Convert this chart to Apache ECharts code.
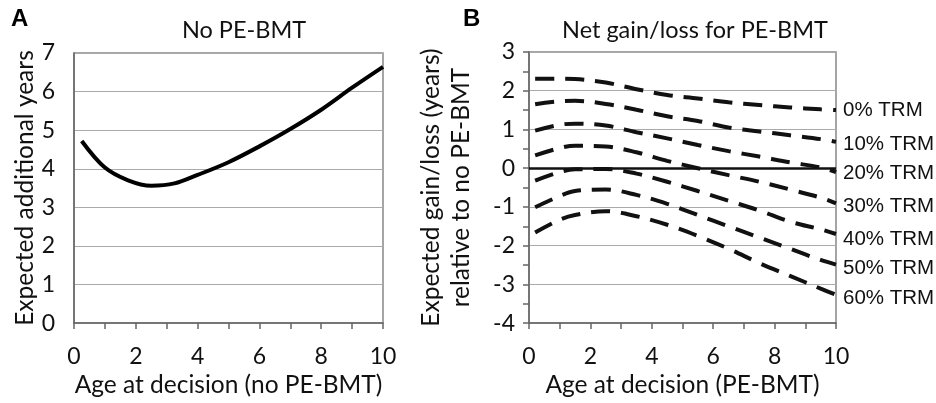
<!DOCTYPE html>
<html>
<head>
<meta charset="utf-8">
<script src="https://cdn.jsdelivr.net/npm/echarts@6/dist/echarts.min.js"></script>
<style>
  html, body { margin: 0; padding: 0; background: #fff; }
  #chart { width: 936px; height: 403px; }
</style>
</head>
<body>
<div id="chart"></div>
<script>
// panel A: no PE-BMT
var ageA = [0.25, 1, 1.75, 2.5, 3.25, 4, 5, 6, 7, 8, 9, 10];
var yearsA = [4.72, 4.03, 3.70, 3.56, 3.62, 3.84, 4.17, 4.58, 5.03, 5.53, 6.1, 6.64];

// panel B: net gain/loss by TRM
var ageB = [0.2, 1, 1.5, 2.5, 3.5, 4.5, 5.5, 6.5, 7.5, 8.5, 9.5, 10];
var trmNames = ['0% TRM', '10% TRM', '20% TRM', '30% TRM', '40% TRM', '50% TRM', '60% TRM'];
var trm0 = [2.31, 2.31, 2.30, 2.21, 2.04, 1.89, 1.80, 1.70, 1.63, 1.57, 1.52, 1.50];
var trm10 = [1.65, 1.73, 1.74, 1.66, 1.51, 1.34, 1.22, 1.05, 0.95, 0.85, 0.75, 0.68];
var trm20 = [0.97, 1.12, 1.15, 1.10, 0.93, 0.77, 0.60, 0.44, 0.30, 0.15, 0.02, -0.10];
var trm30 = [0.33, 0.52, 0.58, 0.56, 0.41, 0.19, 0.00, -0.18, -0.35, -0.55, -0.76, -0.91];
var trm40 = [-0.32, -0.10, -0.03, -0.02, -0.14, -0.35, -0.59, -0.84, -1.09, -1.38, -1.58, -1.70];
var trm50 = [-1.01, -0.72, -0.59, -0.55, -0.69, -0.92, -1.21, -1.50, -1.79, -2.08, -2.37, -2.49];
var trm60 = [-1.66, -1.33, -1.21, -1.11, -1.24, -1.46, -1.75, -2.08, -2.45, -2.78, -3.11, -3.27];
var trmSeries = [trm0, trm10, trm20, trm30, trm40, trm50, trm60];
var labelShift = [0, 2, 1, 3, 5, 4, 4];

var pairs = function(xs, ys){
    return xs.map(function(x, i){ return [x, ys[i]]; });
};

var fontMain = 'Lato, "Open Sans", sans-serif';
var axisGray = '#666';

var xAxisBase = function(idx, name){
    return {
        type: 'value', gridIndex: idx, min: 0, max: 10, interval: 2,
        name: name, nameLocation: 'middle', nameGap: 43,
        nameTextStyle: { color: '#111', fontSize: 24.5, fontFamily: fontMain },
        axisLine: { onZero: false, lineStyle: { color: axisGray, width: 1.5 } },
        axisTick: { show: true, length: 6, lineStyle: { color: axisGray, width: 1.5 } },
        minorTick: { show: true, splitNumber: 2, length: 6, lineStyle: { color: axisGray, width: 1.5 } },
        splitLine: { show: false },
        axisLabel: { color: '#111', fontSize: 23, fontFamily: fontMain, margin: 22 }
    };
};

var seriesB = trmSeries.map(function(vals, i){
    var s = {
        type: 'line', xAxisIndex: 1, yAxisIndex: 1,
        data: pairs(ageB, vals), smooth: 0.35, symbol: 'none',
        lineStyle: { color: '#111', width: 4, type: [19, 11] },
        endLabel: {
            show: true, formatter: trmNames[i], distance: 7, offset: [0, labelShift[i]],
            color: '#111', fontSize: 20.5, fontFamily: '"Liberation Sans", Arial, sans-serif'
        },
        z: 3
    };
    if(i === 0){
        s.markLine = {
            silent: true, symbol: 'none', label: { show: false },
            lineStyle: { color: '#111', type: 'solid', width: 2.5 },
            data: [{ yAxis: 0 }]
        };
    }
    return s;
});

var chart = echarts.init(document.getElementById('chart'));
chart.setOption({
    animation: false,
    backgroundColor: '#fff',
    grid: [
        { left: 74, top: 53, width: 309, height: 282, show: true, borderColor: '#888', borderWidth: 1.5 },
        { left: 529, top: 52, width: 307, height: 283, show: true, borderColor: '#888', borderWidth: 1.5 }
    ],
    xAxis: [
        xAxisBase(0, 'Age at decision (no PE-BMT)'),
        xAxisBase(1, 'Age at decision (PE-BMT)')
    ],
    yAxis: [
        {
            type: 'value', gridIndex: 0, min: 0, max: 7, interval: 1,
            name: 'Expected additional years', nameLocation: 'middle', nameGap: 36,
            nameTextStyle: { color: '#111', fontSize: 24.5, fontFamily: fontMain },
            axisLine: { show: true, lineStyle: { color: axisGray, width: 1.5 } },
            axisTick: { show: false },
            splitLine: { lineStyle: { color: '#aaa', width: 1.2 } },
            axisLabel: { color: '#111', fontSize: 23, fontFamily: fontMain, margin: 19 }
        },
        {
            type: 'value', gridIndex: 1, min: -4, max: 3, interval: 1,
            name: 'Expected gain/loss (years)\nrelative to no PE-BMT', nameLocation: 'middle', nameGap: 53,
            nameTextStyle: { color: '#111', fontSize: 24.5, fontFamily: fontMain, lineHeight: 30 },
            axisLine: { show: true, lineStyle: { color: axisGray, width: 1.5 } },
            axisTick: { show: true, length: 6, lineStyle: { color: axisGray, width: 1.5 } },
            minorTick: { show: true, splitNumber: 2, length: 6, lineStyle: { color: axisGray, width: 1.5 } },
            splitLine: { lineStyle: { color: '#aaa', width: 1.2 } },
            axisLabel: { color: '#111', fontSize: 23, fontFamily: fontMain, margin: 14 }
        }
    ],
    graphic: [
        { type: 'text', left: 11, top: 7, style: { text: 'A', fontSize: 24, fontWeight: 'bold', fontFamily: '"Liberation Sans", Arial', fill: '#000' } },
        { type: 'text', left: 463, top: 7, style: { text: 'B', fontSize: 24, fontWeight: 'bold', fontFamily: '"Liberation Sans", Arial', fill: '#000' } },
        { type: 'text', x: 244, y: 30, style: { text: 'No PE-BMT', align: 'center', verticalAlign: 'middle', fontSize: 23.5, fontFamily: fontMain, fill: '#111' } },
        { type: 'text', x: 695, y: 30, style: { text: 'Net gain/loss for PE-BMT', align: 'center', verticalAlign: 'middle', fontSize: 23.5, fontFamily: fontMain, fill: '#111' } }
    ],
    series: [
        {
            type: 'line', xAxisIndex: 0, yAxisIndex: 0,
            data: pairs(ageA, yearsA), smooth: 0.35, symbol: 'none',
            lineStyle: { color: '#000', width: 4 }
        }
    ].concat(seriesB)
});
</script>
</body>
</html>
